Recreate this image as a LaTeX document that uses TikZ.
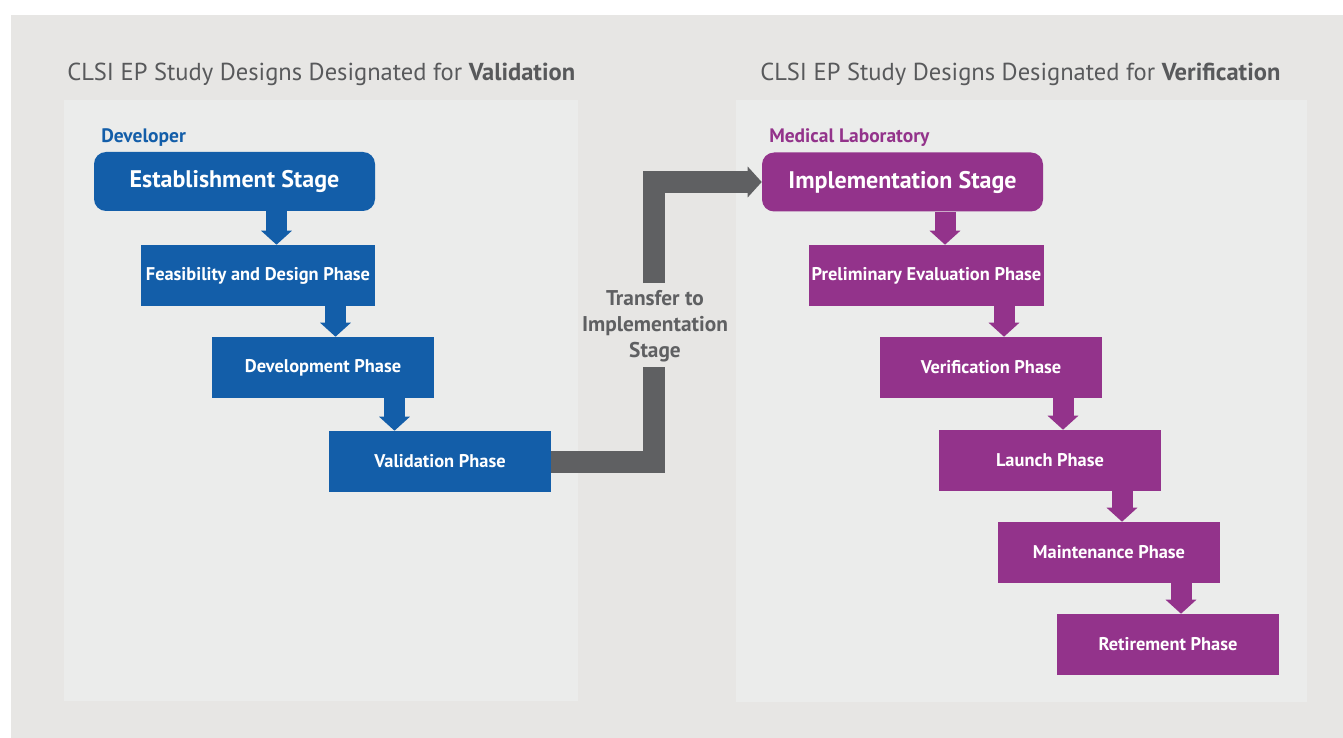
\documentclass[tikz,border=0pt]{standalone}
\usepackage{fontspec}
\setmainfont{PT Sans}
\usetikzlibrary{arrows.meta,calc}
\definecolor{bgouter}{HTML}{E7E6E4}
\definecolor{bgpanel}{HTML}{EBECEB}
\definecolor{devblue}{HTML}{135EA9}
\definecolor{labpurple}{HTML}{93338B}
\definecolor{transfergray}{HTML}{5F6062}
\definecolor{titlegray}{HTML}{58595B}

\begin{document}
\begin{tikzpicture}[x=0.75pt,y=-0.75pt,
  box/.style={rectangle, text=white, inner sep=0pt,
    minimum height={61*0.75pt}, minimum width={222*0.75pt},
    font=\fontsize{13.8}{16}\selectfont\bfseries},
  bluebox/.style={box, fill=devblue},
  purplebox/.style={box, fill=labpurple},
  stagebox/.style={rounded corners={12*0.75pt},
    minimum width={281*0.75pt}, minimum height={59*0.75pt},
    font=\fontsize{18}{20}\selectfont\bfseries},
  paneltitle/.style={anchor=base west, inner sep=0pt, text=titlegray,
    font=\fontsize{18.4}{21}\selectfont},
  rolelabel/.style={anchor=base west, inner sep=0pt,
    font=\fontsize{14.6}{16}\selectfont\bfseries},
  steptip/.style={-{Triangle[width={30*0.75pt},length={14*0.75pt}]}},
  steparrow/.style={steptip, line width={21*0.75pt}},
  transferline/.style={draw=transfergray, line width={22*0.75pt}, line join=miter},
]
% canvas and backgrounds
\fill[white] (0,0) rectangle (1343,738);
\fill[bgouter] (11,15) rectangle (1343,738);
\fill[bgpanel] (64,100) rectangle (578,701);
\fill[bgpanel] (736,100) rectangle (1307,702);

% panel titles
\node[paneltitle] (tval) at (67,81) {CLSI EP Study Designs Designated for \textbf{Validation}};
\node[paneltitle] (tver) at (760,81) {CLSI EP Study Designs Designated for \textbf{Verification}};

% role labels
\node[rolelabel, text=devblue] (dev) at (101,143) {Developer};
\node[rolelabel, text=labpurple] (lab) at (769,143) {Medical Laboratory};

% developer side
\node[bluebox, stagebox] (est) at (234.5,181.5) {Establishment Stage};
\node[bluebox, minimum width={234*0.75pt}] (feas) at (258,275.5) {Feasibility and Design Phase};
\node[bluebox] (devp) at (323,367.5) {Development Phase};
\node[bluebox] (valp) at (440,461.5) {Validation Phase};

% laboratory side
\node[purplebox, stagebox] (impl) at (902.5,182) {Implementation Stage};
\node[purplebox, minimum width={235*0.75pt}] (prel) at (926.5,275.5) {Preliminary Evaluation Phase};
\node[purplebox] (verp) at (991,367.5) {Verification Phase};
\node[purplebox] (laun) at (1050,460.5) {Launch Phase};
\node[purplebox] (main) at (1109,552.5) {Maintenance Phase};
\node[purplebox] (reti) at (1168,644.5) {Retirement Phase};

% x positions of the step arrows
\coordinate (xa1) at (276.5,0);
\coordinate (xa2) at (335.5,0);
\coordinate (xa3) at (394.5,0);
\coordinate (xb1) at (945,0);
\coordinate (xb2) at (1004,0);
\coordinate (xb3) at (1063,0);
\coordinate (xb4) at (1122,0);
\coordinate (xb5) at (1181,0);

\draw[steparrow, draw=devblue] (est.south -| xa1) -- (feas.north -| xa1);
\draw[steparrow, draw=devblue] (feas.south -| xa2) -- (devp.north -| xa2);
\draw[steparrow, draw=devblue] (devp.south -| xa3) -- (valp.north -| xa3);

\draw[steparrow, draw=labpurple] (impl.south -| xb1) -- (prel.north -| xb1);
\draw[steparrow, draw=labpurple] (prel.south -| xb2) -- (verp.north -| xb2);
\draw[steparrow, draw=labpurple] (verp.south -| xb3) -- (laun.north -| xb3);
\draw[steparrow, draw=labpurple] (laun.south -| xb4) -- (main.north -| xb4);
\draw[steparrow, draw=labpurple] (main.south -| xb5) -- (reti.north -| xb5);

% transfer connector with its label in a gap
\node[text=transfergray, align=center, inner sep=0pt,
  font=\fontsize{16}{19.5}\selectfont\bfseries] (xfer) at (655,326)
  {Transfer to\\Implementation\\Stage};
\coordinate (g1) at (654,367);
\coordinate (g2) at (654,283);
\draw[transferline] (valp.east) -| (g1);
\draw[transferline, steptip] (g2) |- (impl.west);
\end{tikzpicture}
\end{document}
